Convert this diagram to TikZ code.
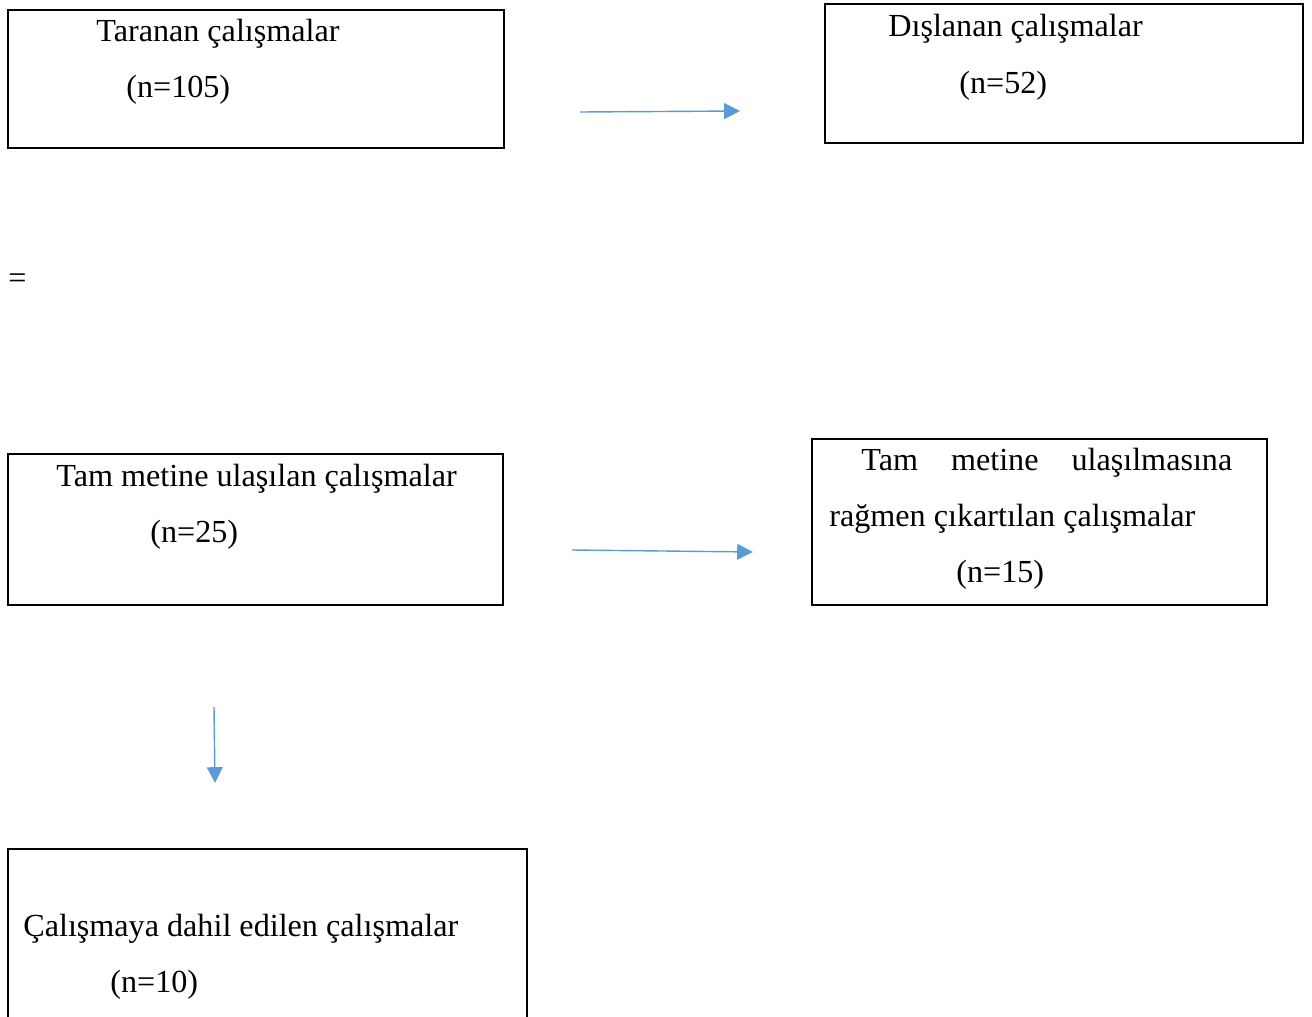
\documentclass[tikz,border=0pt]{standalone}
\usepackage{fontspec}
\setmainfont{Liberation Serif}
\definecolor{wordblue}{RGB}{91, 155, 213}
\usetikzlibrary{arrows.meta, fit}

\begin{document}
\begin{tikzpicture}[x=0.02cm, y=-0.02cm,
        box/.style={rectangle, draw, line width=1.1pt, inner sep=0pt},
        txt/.style={anchor=base west, inner sep=0pt, font=\fontsize{18.3}{22}\selectfont},
        flow/.style={draw=wordblue, line width=0.8pt, -{Triangle[length=9pt, width=9pt]}}]
        \clip (0,0) rectangle (1312,1017);
        % boxes
        \node [box, fit={(8,10) (504,148)}] (taranan) {};
        \node [box, fit={(825,4) (1303,143)}] (dislanan) {};
        \node [box, fit={(8,454) (503,605)}] (tammetin) {};
        \node [box, fit={(812,439) (1267,605)}] (cikarilan) {};
        \node [box, fit={(8,849) (527,1040)}] (dahil) {};

        % texts
        \node [txt] (tarananA) at (96,42) {Taranan çalışmalar};
        \node [txt] (tarananB) at (126,98) {(n=105)};
        \node [txt] (dislananA) at (888,37) {Dışlanan çalışmalar};
        \node [txt] (dislananB) at (959,93) {(n=52)};
        \node [txt] (esittir) at (8,288) {=};
        \node [txt] (tammetinA) at (56,486) {Tam metine ulaşılan çalışmalar};
        \node [txt] (tammetinB) at (150,542) {(n=25)};
        \node [txt] (cikarilanA) at (861,470) {\makebox[7.42cm][s]{Tam metine ulaşılmasına}};
        \node [txt] (cikarilanB) at (829,526) {rağmen çıkartılan çalışmalar};
        \node [txt] (cikarilanC) at (956,582) {(n=15)};
        \node [txt] (dahilA) at (23,936) {Çalışmaya dahil edilen çalışmalar};
        \node [txt] (dahilB) at (110,992) {(n=10)};

        % arrows
        \coordinate (a1) at (580,112);
        \coordinate (b1) at (740,111);
        \coordinate (a2) at (572,550);
        \coordinate (b2) at (753,552);
        \coordinate (a3) at (214,707);
        \coordinate (b3) at (215,783);
        \draw [flow] (a1) -- (b1);
        \draw [flow] (a2) -- (b2);
        \draw [flow] (a3) -- (b3);
\end{tikzpicture}
\end{document}
